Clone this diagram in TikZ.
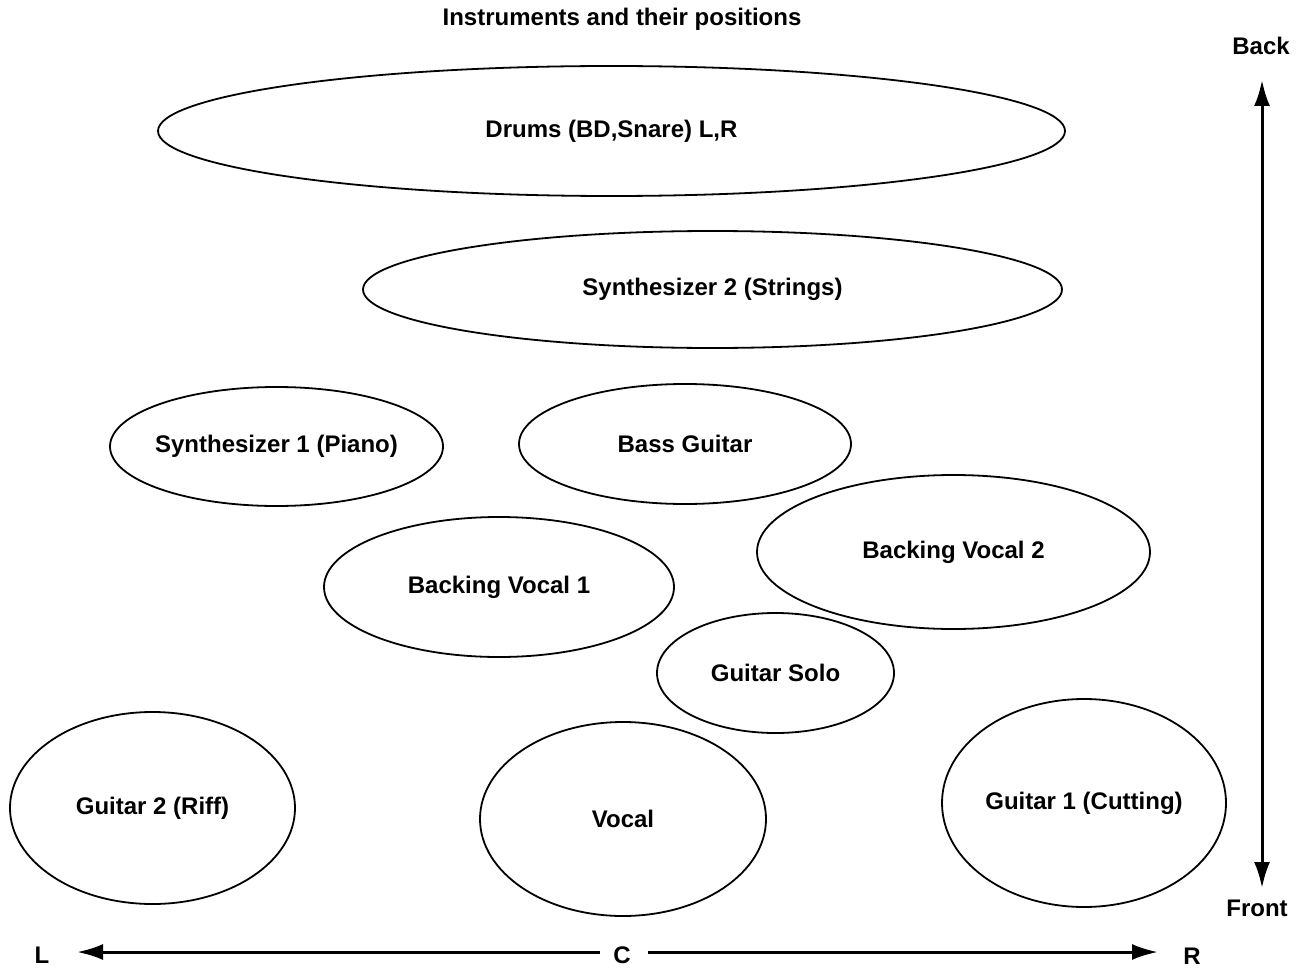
\documentclass[tikz,border=0pt]{standalone}
\usepackage{fontspec}
\setmainfont{Liberation Sans}
\usetikzlibrary{shapes.geometric,arrows.meta}
\begin{document}
\begin{tikzpicture}[x=1pt,y=-1pt,
  inst/.style={draw,ellipse,line width=1.8pt,inner sep=0pt,
    font=\fontsize{24}{28}\selectfont\bfseries},
  lab/.style={inner sep=2pt,font=\fontsize{24}{28}\selectfont\bfseries},
  tip/.tip={Latex[length=26pt,width=16pt]},
  axis/.style={line width=3pt,-tip}]
\useasboundingbox (0,0) rectangle (1305,968);
\node[lab] (title) at (622,19) {Instruments and their positions};
\node[inst,minimum width=907pt,minimum height=130pt] (drums) at (611.5,131) {Drums (BD,Snare) L,R};
\node[inst,minimum width=699pt,minimum height=117pt] (synthB) at (712.5,289.5) {Synthesizer 2 (Strings)};
\node[inst,minimum width=333pt,minimum height=119pt,inner xsep=-40pt] (synthA) at (276.5,446.5) {Synthesizer 1 (Piano)};
\node[inst,minimum width=332pt,minimum height=120pt] (bass) at (685,444) {Bass Guitar};
\node[inst,minimum width=393pt,minimum height=154pt] (bvB) at (953.5,552) {Backing Vocal 2};
\node[inst,minimum width=350pt,minimum height=140pt] (bvA) at (499,587) {Backing Vocal 1};
\node[inst,minimum width=237pt,minimum height=120pt] (solo) at (775.5,673) {Guitar Solo};
\node[inst,minimum width=285pt,minimum height=192pt] (gtrB) at (152.5,808) {Guitar 2 (Riff)};
\node[inst,minimum width=286pt,minimum height=194pt] (vocal) at (623,819) {Vocal};
\node[inst,minimum width=284pt,minimum height=208pt] (gtrA) at (1084,803) {Guitar 1 (Cutting)};
% vertical axis
\node[lab] (back) at (1261,46) {Back};
\node[lab] (front) at (1257,908) {Front};
\coordinate (bt) at (1262,80);
\coordinate (ft) at (1262,888);
\draw[axis,tip-tip] (bt) -- (ft);
% horizontal axis
\node[lab] (L) at (42,955) {L};
\node[lab] (C) at (622,955) {C};
\node[lab] (R) at (1192,956) {R};
\coordinate (lend) at (77,952);
\coordinate (rend) at (1158,952);
\coordinate (lstart) at (600,952);
\coordinate (rstart) at (648,952);
\draw[axis] (lstart) -- (lend);
\draw[axis] (rstart) -- (rend);
\end{tikzpicture}
\end{document}
